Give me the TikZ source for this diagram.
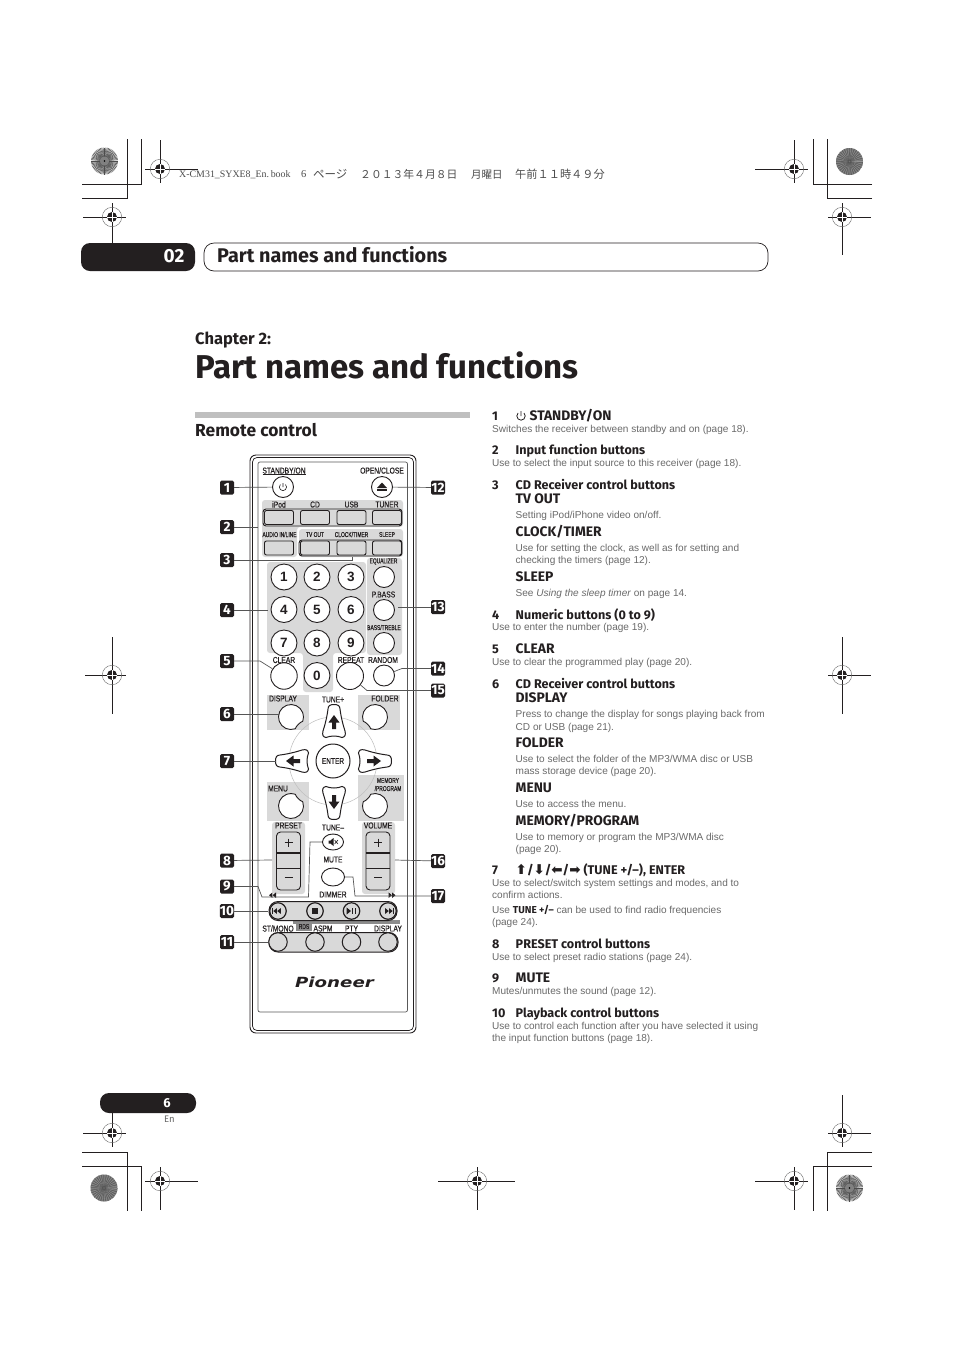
\documentclass[tikz,border=0pt]{standalone}
\usepackage{fontspec}
\usetikzlibrary{shapes.geometric,calc}
\setmainfont{Liberation Sans}
\newfontfamily\headf{Fira Sans}
\newfontfamily\remf[FakeStretch=0.78,FakeBold=0.3]{Liberation Sans}
\newfontfamily\remsf[FakeStretch=0.7,FakeBold=0.3]{Liberation Sans}
\newfontfamily\djf{DejaVu Sans}
\newfontfamily\cjkf{Noto Sans CJK JP}
\newfontfamily\seriff{Liberation Serif}
\newfontfamily\logof[FakeStretch=1.3]{DejaVu Sans}
\definecolor{panel}{HTML}{D9D9D9}
\definecolor{bodyc}{HTML}{6A6A6A}
\definecolor{ink}{HTML}{231F20}
\definecolor{leadc}{HTML}{555555}
\newcounter{tn}
\tikzset{
 crop/.style={line width=.8pt,ink},
 lead/.style={line width=.7pt,leadc},
 pan/.style={fill=panel,draw=none,rounded corners=3pt},
 callout/.style={fill=ink,text=white,rounded corners=1.5pt,minimum size=14pt,inner sep=0pt,font=\headf\bfseries\fontsize{13.5}{13.5}\selectfont},
 hdt/.style={anchor=mid west,inner sep=0pt,text=ink,font=\headf\bfseries\fontsize{12.6}{12.6}\selectfont},
 hdc/.style={anchor=mid west,inner sep=0pt,text=ink,font=\headf\bfseries\fontsize{13.8}{13.8}\selectfont},
 bdt/.style={anchor=mid west,inner sep=0pt,text=bodyc,font=\fontsize{10.05}{10.05}\selectfont},
 rem/.style={inner sep=0pt,text=ink,font=\remf\fontsize{8.6}{8.6}\selectfont},
 rems/.style={inner sep=0pt,text=ink,font=\remsf\fontsize{7}{7}\selectfont},
 circ/.style={circle,draw=ink,line width=.9pt,inner sep=0pt,minimum size=#1,fill=white},
 numb/.style={circle,draw=ink,line width=.9pt,inner sep=0pt,minimum size=26pt,fill=white,font=\bfseries\fontsize{13.5}{13.5}\selectfont,text=ink},
 rbtn/.style={rectangle,rounded corners=2pt,draw=ink,line width=.9pt,fill=panel,inner sep=0pt,minimum width=29pt,minimum height=14pt},
 pbtn/.style={circle,draw=ink,line width=1.2pt,inner sep=0pt,minimum size=16.5pt,fill=panel},
 lbtn/.style={circle,draw=ink,line width=1pt,inner sep=0pt,minimum size=18.5pt,fill=panel},
}
\newcommand\hdl[3]{\stepcounter{tn}\node[hdt] (t\thetn) at (#1,#2) {#3};}
\newcommand\hdcaps[3]{\stepcounter{tn}\node[hdc] (t\thetn) at (#1,#2) {#3};}
\newcommand\bdl[3]{\stepcounter{tn}\node[bdt] (t\thetn) at (#1,#2) {#3};}
\newcommand\remlab[3]{\stepcounter{tn}\node[rem] (t\thetn) at (#1,#2) {#3};}
\newcommand\remsm[3]{\stepcounter{tn}\node[rems] (t\thetn) at (#1,#2) {#3};}
\newcommand\regmark[3]{%
  \draw[line width=.4pt,black!60] (#1,#2) circle[radius=9.7];
  \fill[ink] (#1,#2) circle[radius=5];
  \draw[white,line width=.35pt] (#1-5,#2) -- (#1+5,#2) (#1,#2-5) -- (#1,#2+5);
}
\newcommand\sunlight[2]{%
  \fill[black!12] (#1,#2) circle[radius=13.5];
  \foreach \a in {0,6,...,354}{\draw[line width=.5pt,black!70] (#1,#2) ++(\a:4) -- ++(\a:9.5);}
  \fill[black!50] (#1,#2) circle[radius=4.5];
  \fill[black] (#1,#2) circle[radius=.8];
}
\newcommand\sundark[2]{%
  \fill[black!55] (#1,#2) circle[radius=13.5];
  \foreach \a in {0,11,...,355}{\draw[line width=.3pt,black!42] (#1,#2) ++(\a:2) -- ++(\a:11.5);}
  \foreach \a in {5,16,...,355}{\draw[line width=.3pt,black!68] (#1,#2) ++(\a:1) -- ++(\a:12.5);}
}
% directional button, drawn pointing up
\newcommand\dirbtn[3]{%
 \begin{scope}[shift={(#1,#2)},rotate=#3]
  \draw[line width=1pt,ink,fill=white] (-6,-13) .. controls (-6,-16.5) and (-3.5,-17.5) .. (0,-17.5)
    .. controls (3.5,-17.5) and (6,-16.5) .. (6,-13) .. controls (7,-5) and (9,3) .. (11,9)
    .. controls (12,13) and (11,15) .. (8,15.5) .. controls (3,13.5) and (-3,13.5) .. (-8,15.5)
    .. controls (-11,15) and (-12,13) .. (-11,9) .. controls (-9,3) and (-7,-5) .. (-6,-13) -- cycle;
  \fill[ink] (0,-7) -- (5.5,0.5) -- (2,0.5) -- (2,7) -- (-2,7) -- (-2,0.5) -- (-5.5,0.5) -- cycle;
 \end{scope}
}
% notched round button: #3 is the direction of the notch
\newcommand\notchbtn[3]{%
 \begin{scope}[shift={(#1,#2)},rotate=#3]
  \draw[line width=.9pt,ink,fill=white] (25:12.5) arc[start angle=25,delta angle=310,radius=12.5]
     .. controls (10,-2.5) and (10,2.5) .. (25:12.5) -- cycle;
 \end{scope}
}
\newcommand\trileft[3]{\fill[ink] (#1,#2) -- ++(#3,-#3*.8) -- ++(0,#3*1.6) -- cycle;}
\newcommand\triright[3]{\fill[ink] (#1,#2) -- ++(-#3,-#3*.8) -- ++(0,#3*1.6) -- cycle;}
\begin{document}
\begin{tikzpicture}[x=1pt,y=-1pt]
\useasboundingbox (0,0) rectangle (954,1350);
\fill[white] (0,0) rectangle (954,1350);

% ---- crop marks
\draw[crop] (82,198) -- (127.5,198) -- (127.5,139);
\draw[crop] (82,184) -- (141,184) -- (141,139);
\draw[crop] (872,184) -- (813,184) -- (813,139);
\draw[crop] (872,198) -- (827,198) -- (827,139);
\draw[crop] (82,1152) -- (127.5,1152) -- (127.5,1211);
\draw[crop] (82,1166) -- (141,1166) -- (141,1211);
\draw[crop] (872,1166) -- (813,1166) -- (813,1211);
\draw[crop] (872,1152) -- (827,1152) -- (827,1211);
\sunlight{104.5}{161}
\sundark{849.5}{161.5}
\sundark{104}{1188}
\sunlight{849.5}{1188}
% register marks
\draw[crop] (145,169) -- (198,169) (160,140) -- (160,183);
\regmark{160}{169}{}
\draw[crop] (755,169) -- (808,169) (794,140) -- (794,183);
\regmark{794}{169}{}
\draw[crop] (83,217) -- (126,217) (112,203) -- (112,243);
\regmark{112}{217}{}
\draw[crop] (828,217) -- (871,217) (842,203) -- (842,255);
\regmark{842}{217}{}
\draw[crop] (85,675) -- (126,675) (112,637) -- (112,714);
\regmark{112}{675}{}
\draw[crop] (828,675) -- (871,675) (842,637) -- (842,714);
\regmark{842}{675}{}
\draw[crop] (83,1133) -- (126,1133) (112,1113) -- (112,1147);
\regmark{112}{1133}{}
\draw[crop] (828,1133) -- (871,1133) (842,1095) -- (842,1147);
\regmark{842}{1133}{}
\draw[crop] (145,1181) -- (198,1181) (160,1167) -- (160,1210);
\regmark{160}{1181}{}
\draw[crop] (438,1181) -- (515,1181) (477,1167) -- (477,1210);
\regmark{477}{1181}{}
\draw[crop] (755,1181) -- (808,1181) (794,1167) -- (794,1210);
\regmark{794}{1181}{}

% ---- book header
\tikzset{bookh/.style={anchor=mid west,inner sep=0pt,text=black!70}}
\node[bookh,font=\seriff\fontsize{9.9}{9.9}\selectfont] (bk1) at (179,174.5) {X-CM31\_SYXE8\_En.\,book};
\node[bookh,font=\seriff\fontsize{10.5}{10.5}\selectfont] (bk2) at (301,174.5) {6};
\node[bookh,font=\cjkf\fontsize{11.5}{11.5}\selectfont] (bk3) at (313,176) {ページ};
\node[bookh,font=\cjkf\fontsize{10.8}{10.8}\selectfont] (bk4) at (360,176) {２０１３年４月８日};
\node[bookh,font=\cjkf\fontsize{10.5}{10.5}\selectfont] (bk5) at (471,176) {月曜日};
\node[bookh,font=\cjkf\fontsize{11.2}{11.2}\selectfont] (bk6) at (515,176) {午前１１時４９分};

% ---- chapter header
\node[fill=ink,rounded corners=9pt,minimum width=114pt,minimum height=28pt,inner sep=0pt] (pill) at (138,257) {};
\node[text=white,font=\headf\bfseries\fontsize{19}{19}\selectfont,inner sep=0pt] (num02) at (174,256) {02};
\draw[line width=.7pt,ink,rounded corners=10pt] (204,243) rectangle (768,271);
\node[anchor=mid west,inner sep=0pt,text=ink,font=\headf\bfseries\fontsize{19.8}{19.8}\selectfont] (toptitle) at (217,259.5) {Part names and functions};
\node[anchor=mid west,inner sep=0pt,text=ink,font=\headf\bfseries\fontsize{16.5}{16.5}\selectfont] (chap) at (195,342) {Chapter 2:};
\node[anchor=mid west,inner sep=0pt,text=ink,font=\headf\bfseries\fontsize{33}{33}\selectfont] (title) at (195,376) {Part names and functions};
\fill[black!25] (195,412) rectangle (470,418);
\node[anchor=mid west,inner sep=0pt,text=ink,font=\headf\bfseries\fontsize{17.4}{17.4}\selectfont] (remc) at (195,434) {Remote control};

% ---- page number
\node[fill=ink,rounded corners=9pt,minimum width=96pt,minimum height=20pt,inner sep=0pt] (pill2) at (148,1103) {};
\node[text=white,font=\headf\bfseries\fontsize{13}{13}\selectfont,inner sep=0pt] (pnum) at (167,1103) {6};
\node[text=black!60,font=\headf\fontsize{9.5}{9.5}\selectfont,inner sep=0pt] (en) at (169.5,1119.5) {En};

% ---- remote body
\draw[line width=.9pt,ink,rounded corners=6pt] (250,455) rectangle (416,1033);
\draw[line width=.7pt,ink,rounded corners=4.5pt] (252.5,457.5) rectangle (413.5,1030.5);
\draw[line width=.7pt,black!65,rounded corners=2pt] (258,462) rectangle (407.5,1012);

% panels
\path[pan] (262,500) -- (403,500) -- (403,527) -- (297,527) -- (297,557) -- (262,557) -- cycle;
\path[pan] (299,529) rectangle (403,557);
\path[pan] (267,562) -- (366,562) -- (366,653) -- (333,653) -- (333,692) -- (303,692) -- (303,653) -- (267,653) -- cycle;
\path[pan] (367,558) rectangle (402,655);
\fill[panel] (267,695) rectangle (309,730);
\fill[panel] (358,695) rectangle (400,730);
\fill[panel] (267,782) rectangle (309,821);
\fill[panel] (358,775) rectangle (404,821);
\path[pan] (272,822) rectangle (305,894);
\path[pan] (362,822) rectangle (395,894);
% control ring
\draw[line width=.5pt,black!25] (333,761) circle[radius=44];

% buttons
\node[circ=21pt] (standby) at (283,487) {};
\draw[ink,line width=.6pt] (285.5,484.5) arc[start angle=-45,delta angle=270,radius=3.6] (283,483) -- (283,487);
\node[circ=21pt] (eject) at (382,487) {};
\fill[ink] (382,482.5) -- (387,488) -- (377,488) -- cycle;
\fill[ink] (377,489.3) rectangle (387,491);

\draw[ink,line width=.9pt,rounded corners=3pt,fill=panel] (263,509) rectangle (402,526);
\foreach \n/\x in {ipod/279,cd/315,usb/351.5,tuner/387}{\node[rbtn] (\n) at (\x,517.5) {};}
\draw[ink,line width=.9pt,rounded corners=3pt,fill=panel] (299,540) rectangle (402,556);
\foreach \n/\x in {audio/279,tvout/315,clock/351.5,sleep/387}{\node[rbtn] (\n) at (\x,548) {};}

\foreach \t/\x/\y in {1/284/577,2/317/577,3/351/577,4/284/609.5,5/317/609.5,6/351/609.5,7/284/643,8/317/643,9/351/643,0/317/675.5}{\node[numb] (n\t) at (\x,\y) {\t};}
\node[circ=21pt] (eq) at (384,577) {};
\node[circ=21pt] (pbass) at (384,610) {};
\node[circ=21pt] (bass) at (384,643) {};
\node[circ=26.5pt] (clear) at (284,676) {};
\node[circ=27pt] (repeat) at (350,676) {};
\node[circ=21pt] (random) at (384,675.5) {};

\notchbtn{291}{717}{-45}
\notchbtn{375}{717}{-135}
\notchbtn{291}{806}{45}
\notchbtn{375}{806}{135}
\coordinate (displayb) at (278.5,714);
\coordinate (leftb) at (275.5,761);

\dirbtn{334}{722}{0}
\dirbtn{334}{802}{180}
\dirbtn{293}{761}{90}
\dirbtn{374}{761}{-90}
\node[circle,draw=ink,line width=1pt,fill=white,minimum size=34pt,inner sep=0pt,font=\remf\fontsize{8.4}{8.4}\selectfont,text=ink] (enter) at (333,761) {ENTER};

% rockers
\foreach \x/\n in {288.5/pre,378/vol}{
 \draw[ink,line width=.9pt,fill=panel,rounded corners=4pt] (\x-12,832) rectangle (\x+12,890);
 \draw[ink,line width=1.3pt] (\x-12,853) -- (\x+12,853);
 \draw[ink,line width=.6pt] (\x-12,868) -- (\x+12,868);
 \draw[ink,line width=1pt] (\x-4,842.5) -- (\x+4,842.5) (\x,838.5) -- (\x,846.5);
 \draw[ink,line width=1pt] (\x-4,877.5) -- (\x+4,877.5);
}
\coordinate (presetb) at (272,860);
\coordinate (volumeb) at (395,860);
% mute and dimmer
\node[ellipse,draw=ink,line width=.9pt,fill=white,minimum width=21pt,minimum height=16pt,inner sep=0pt] (mute) at (333,842) {};
\fill[ink] (328.5,840.5) -- (330.5,840.5) -- (333.5,838) -- (333.5,846) -- (330.5,843.5) -- (328.5,843.5) -- cycle;
\draw[ink,line width=.6pt] (334.5,840) -- (338,844) (338,840) -- (334.5,844);
\node[ellipse,draw=ink,line width=.9pt,fill=white,minimum width=23pt,minimum height=18pt,inner sep=0pt] (dimmer) at (333,877) {};

% skip marks
\trileft{269}{895.2}{3.4}\trileft{272.6}{895.2}{3.4}
\triright{395.5}{895.2}{3.4}\triright{392}{895.2}{3.4}

% playback row
\fill[black!45] (293,920) rectangle (400,923.5);
\draw[ink,line width=1pt,fill=panel,rounded corners=9pt] (269,901.5) rectangle (397,920.5);
\foreach \n/\x in {prev/278,stop/315,play/351.5,next/388}{\node[pbtn] (\n) at (\x,911) {};}
\fill[ink] (271.8,908) rectangle (272.8,914);\trileft{273.3}{911}{3.6}\trileft{277.2}{911}{3.6}
\fill[ink] (312,908) rectangle (318,914);
\triright{351}{911}{4.5}\fill[ink] (352,908) rectangle (353.2,914);\fill[ink] (354.8,908) rectangle (356,914);
\fill[ink] (393.2,908) rectangle (394.2,914);\triright{392.7}{911}{3.6}\triright{388.8}{911}{3.6}

% bottom row
\draw[ink,line width=1pt,fill=panel,rounded corners=9pt] (269,932.5) rectangle (398,952);
\foreach \n/\x in {stmono/278,aspm/315,pty/351.5,disp/388}{\node[lbtn] (\n) at (\x,942) {};}
\coordinate (rowplay) at (268,911);
\coordinate (rowbot) at (268,942);

% RDS
\fill[black!45] (296,922) rectangle (312,931);

% labels
\remlab{284}{470.5}{STANDBY/ON}
\draw[ink,line width=.4pt] (262.5,474.5) -- (306,474.5);
\remlab{382}{470.5}{OPEN/CLOSE}
\remlab{279}{504.5}{iPod}\remlab{315}{504.5}{CD}\remlab{351.5}{504.5}{USB}\remlab{387}{504.5}{TUNER}
\remsm{279.5}{534.5}{AUDIO IN/LINE}\remsm{315}{534.5}{TV OUT}\remsm{351.5}{534.5}{CLOCK/TIMER}\remsm{387}{534.5}{SLEEP}
\remsm{383.5}{561.5}{EQUALIZER}\remlab{383.5}{594.5}{P.BASS}\remsm{384}{627.5}{BASS/TREBLE}
\remlab{284}{660}{CLEAR}\remlab{351}{660}{REPEAT}\remlab{383}{660}{RANDOM}
\remlab{283}{698.5}{DISPLAY}\remlab{333}{699.5}{TUNE+}\remlab{385}{698.5}{FOLDER}
\remsm{388}{780.5}{MEMORY}\remsm{388}{788.5}{/PROGRAM}\remlab{278}{788.5}{MENU}
\remlab{288.5}{825.5}{PRESET}\remlab{333}{827.5}{TUNE–}\remlab{378}{825.5}{VOLUME}
\remlab{333}{859.5}{MUTE}\remlab{333}{894.5}{DIMMER}
\remlab{278}{928.5}{ST/MONO}\remsm{304}{926.5}{RDS}\remlab{323}{928.5}{ASPM}\remlab{351.5}{928.5}{PTY}\remlab{388}{928.5}{DISPLAY}

% logo
\node[inner sep=0pt,text=ink,font=\logof\bfseries\itshape\fontsize{14}{14}\selectfont] (logo) at (334.5,982.5) {Pioneer};

% ---- callouts
\foreach \t/\y in {1/487.5,2/527,3/560,4/610,5/661,6/714,7/761,8/860.5,9/886.5,10/911,11/942}{\node[callout] (c\t) at (227,\y) {\t};}
\foreach \t/\y in {12/487.5,13/607,14/668.5,15/690.5,16/861,17/896}{\node[callout] (c\t) at (438,\y) {\t};}

% ---- leaders
\coordinate (p2) at (258,527);
\coordinate (p3a) at (352,560);\coordinate (p3b) at (352,557);
\coordinate (p4) at (268,610);
\coordinate (p5a) at (260,661);
\coordinate (p9a) at (258,886.5);\coordinate (p9b) at (262,897);\coordinate (p9c) at (308.5,897);\coordinate (p9d) at (310,842);
\coordinate (p13) at (398,607);
\coordinate (p14a) at (402,668.5);
\coordinate (p15a) at (367,690.5);
\coordinate (p17a) at (355,896);\coordinate (p17b) at (353,877);
\draw[lead] (c1) -- (standby);
\draw[lead] (c2) -- (p2);
\draw[lead] (c3) -- (p3a) -- (p3b);
\draw[lead] (c4) -- (p4);
\draw[lead] (c5) -- (p5a) -- (clear);
\draw[lead] (c6) -- (displayb);
\draw[lead] (c7) -- (leftb);
\draw[lead] (c8) -- (presetb);
\draw[lead] (c9) -- (p9a) -- (p9b) -- (p9c) -- (p9d) -- (mute);
\draw[lead] (c10) -- (rowplay);
\draw[lead] (c11) -- (rowbot);
\draw[lead] (c12) -- (eject);
\draw[lead] (c13) -- (p13);
\draw[lead] (c14) -- (p14a) -- (random);
\draw[lead] (c15) -- (p15a) -- (repeat);
\draw[lead] (c16) -- (volumeb);
\draw[lead] (c17) -- (p17a) -- (p17b) -- (dimmer);

% ---- right column
\newcommand\bigarrow[1]{{\djf\fontsize{13.5}{13.5}\selectfont #1}}
\hdl{492}{417.5}{1}
\draw[ink,line width=.8pt] (524,413) arc[start angle=-45,delta angle=270,radius=4.2] (521,411) -- (521,416);
\hdcaps{529.5}{417.5}{STANDBY/ON}
\bdl{492}{430}{Switches the receiver between standby and on (page 18).}
\hdl{492}{452}{2}\hdl{515.5}{452}{Input function buttons}
\bdl{492}{464}{Use to select the input source to this receiver (page 18).}
\hdl{492}{486.5}{3}\hdl{515.5}{486.5}{CD Receiver control buttons}
\hdcaps{515.5}{500.5}{TV OUT}
\bdl{515.5}{516}{Setting iPod/iPhone video on/off.}
\hdcaps{515.5}{534}{CLOCK/TIMER}
\bdl{515.5}{549}{Use for setting the clock, as well as for setting and}
\bdl{515.5}{561}{checking the timers (page 12).}
\hdcaps{515.5}{578.5}{SLEEP}
\bdl{515.5}{594}{See \textit{Using the sleep timer} on page 14.}
\hdl{492}{616.5}{4}\hdl{515.5}{616.5}{Numeric buttons (0 to 9)}
\bdl{492}{628}{Use to enter the number (page 19).}
\hdl{492}{650.5}{5}\hdcaps{515.5}{650.5}{CLEAR}
\bdl{492}{662.5}{Use to clear the programmed play (page 20).}
\hdl{492}{685.5}{6}\hdl{515.5}{685.5}{CD Receiver control buttons}
\hdcaps{515.5}{699.5}{DISPLAY}
\bdl{515.5}{715}{Press to change the display for songs playing back from}
\bdl{515.5}{727.5}{CD or USB (page 21).}
\hdcaps{515.5}{744.5}{FOLDER}
\bdl{515.5}{760}{Use to select the folder of the MP3/WMA disc or USB}
\bdl{515.5}{772}{mass storage device (page 20).}
\hdcaps{515.5}{789.5}{MENU}
\bdl{515.5}{805}{Use to access the menu.}
\hdcaps{515.5}{822.5}{MEMORY/PROGRAM}
\bdl{515.5}{838}{Use to memory or program the MP3/WMA disc}
\bdl{515.5}{850}{(page 20).}
\hdl{492}{871.5}{7}\hdl{515.5}{871.5}{\bigarrow{⬆}/\bigarrow{⬇}/\bigarrow{⬅}/\bigarrow{➡} (TUNE +/–), ENTER}
\bdl{492}{884}{Use to select/switch system settings and modes, and to}
\bdl{492}{896}{confirm actions.}
\bdl{492}{911}{Use {\headf\bfseries\color{ink}TUNE +/–} can be used to find radio frequencies}
\bdl{492}{923}{(page 24).}
\hdl{492}{945.5}{8}\hdl{515.5}{945.5}{PRESET control buttons}
\bdl{492}{958}{Use to select preset radio stations (page 24).}
\hdl{492}{979.5}{9}\hdcaps{515.5}{979.5}{MUTE}
\bdl{492}{992}{Mutes/unmutes the sound (page 12).}
\hdl{492}{1014.5}{10}\hdl{515.5}{1014.5}{Playback control buttons}
\bdl{492}{1027}{Use to control each function after you have selected it using}
\bdl{492}{1039}{the input function buttons (page 18).}
\end{tikzpicture}
\end{document}
